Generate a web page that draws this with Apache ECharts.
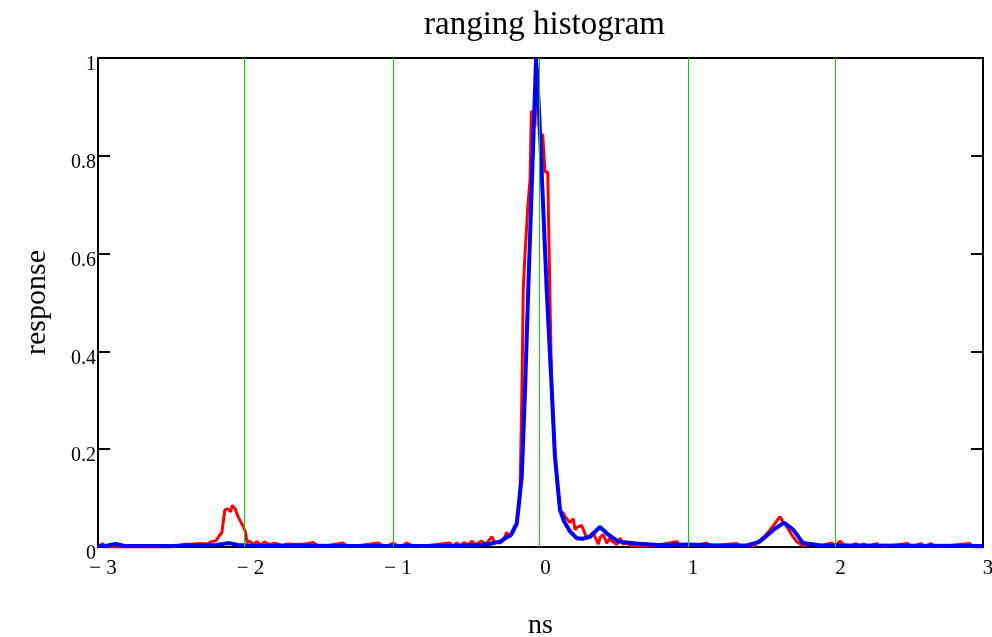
<!DOCTYPE html>
<html>
<head>
<meta charset="utf-8">
<script src="https://cdn.jsdelivr.net/npm/echarts@6/dist/echarts.min.js"></script>
<style>
 html, body { margin: 0; padding: 0; background: #fff; }
 #chartMain { width: 992px; height: 637px; }
</style>
</head>
<body>
<div id="chartMain"></div>
<script>
 // x axis ticks (ns) and y axis ticks (response)
 var nsTicks = [-3, -2, -1, 0, 1, 2, 3];
 var respTicks = [0, 0.2, 0.4, 0.6, 0.8, 1];
 // green reference lines (ns)
 var markerNs = [-2.01, -1.005, -0.005, 1.0, 2.0];

 // measured histogram (red)
 var redNs = [-3.0, -2.97, -2.95, -2.5, -2.42, -2.35, -2.3, -2.26, -2.23, -2.2, -2.18, -2.16, -2.14, -2.12, -2.1, -2.09, -2.083, -2.07, -2.05, -2.03, -2.015, -2.0, -1.99, -1.97, -1.95, -1.92, -1.9, -1.87, -1.84, -1.8, -1.75, -1.72, -1.66, -1.6, -1.54, -1.5, -1.34, -1.3, -1.1, -1.05, -1.0, -0.95, -0.907, -0.85, -0.614, -0.59, -0.57, -0.54, -0.52, -0.49, -0.466, -0.44, -0.4, -0.37, -0.33, -0.31, -0.297, -0.27, -0.25, -0.229, -0.21, -0.184, -0.161, -0.139, -0.127, -0.117, -0.105, -0.085, -0.071, -0.062, -0.045, -0.037, -0.028, -0.015, -0.008, 0.015, 0.03, 0.049, 0.064, 0.076, 0.098, 0.11, 0.132, 0.155, 0.166, 0.178, 0.2, 0.222, 0.234, 0.245, 0.279, 0.29, 0.313, 0.336, 0.358, 0.37, 0.392, 0.405, 0.426, 0.449, 0.471, 0.483, 0.517, 0.539, 0.56, 0.584, 0.62, 0.7, 0.8, 0.923, 0.95, 1.05, 1.127, 1.15, 1.33, 1.36, 1.45, 1.488, 1.52, 1.556, 1.59, 1.605, 1.624, 1.642, 1.669, 1.703, 1.737, 1.78, 1.85, 1.86, 1.9, 1.94, 1.974, 2.0, 2.03, 2.06, 2.1, 2.14, 2.16, 2.19, 2.22, 2.28, 2.3, 2.49, 2.51, 2.58, 2.6, 2.65, 2.67, 2.91, 2.93, 3.0];
 var redResp = [0, 0.007, 0, 0, 0.005, 0.006, 0.007, 0.006, 0.011, 0.013, 0.022, 0.03, 0.076, 0.078, 0.072, 0.085, 0.089, 0.078, 0.062, 0.05, 0.042, 0.03, 0.01, 0.012, 0.005, 0.011, 0.004, 0.01, 0.005, 0.008, 0.003, 0.006, 0.005, 0.006, 0.009, 0, 0.008, 0, 0.008, 0, 0.008, 0, 0.008, 0, 0.008, 0.002, 0.008, 0.003, 0.009, 0.004, 0.012, 0.005, 0.012, 0.006, 0.021, 0.01, 0.012, 0.008, 0.015, 0.03, 0.02, 0.031, 0.048, 0.105, 0.3, 0.526, 0.6, 0.7, 0.75, 0.89, 0.89, 0.86, 0.98, 0.97, 0.843, 0.843, 0.767, 0.767, 0.51, 0.321, 0.185, 0.144, 0.076, 0.069, 0.062, 0.064, 0.05, 0.058, 0.035, 0.04, 0.044, 0.036, 0.018, 0.024, 0.03, 0.02, 0.006, 0.02, 0.025, 0.008, 0.018, 0.012, 0.005, 0.018, 0.006, 0.008, 0.003, 0.002, 0.004, 0.011, 0.002, 0.003, 0.008, 0.002, 0.007, 0.002, 0.003, 0.014, 0.022, 0.035, 0.048, 0.055, 0.062, 0.052, 0.042, 0.025, 0.011, 0.003, 0.006, 0.007, 0.002, 0.006, 0.008, 0.003, 0.012, 0.004, 0.002, 0.007, 0.002, 0.006, 0.001, 0.007, 0, 0.007, 0, 0.007, 0, 0.007, 0, 0.007, 0, 0];

 // fitted response (blue)
 var blueNs = [-3.0, -2.95, -2.88, -2.82, -2.5, -2.4, -2.2, -2.11, -2.05, -1.9, -1.6, -1.4, -0.6, -0.41, -0.35, -0.275, -0.2, -0.161, -0.127, -0.105, -0.083, -0.03, -0.008, 0.042, 0.075, 0.098, 0.132, 0.16, 0.2, 0.245, 0.29, 0.336, 0.403, 0.46, 0.528, 0.652, 0.8, 1.0, 1.2, 1.4, 1.488, 1.578, 1.651, 1.714, 1.78, 1.9, 2.1, 3.0];
 var blueResp = [0.002, 0.002, 0.006, 0.002, 0.002, 0.003, 0.004, 0.008, 0.004, 0.002, 0.003, 0.002, 0.002, 0.004, 0.006, 0.011, 0.025, 0.048, 0.144, 0.321, 0.526, 1.0, 0.88, 0.526, 0.33, 0.185, 0.076, 0.052, 0.032, 0.018, 0.017, 0.021, 0.041, 0.025, 0.011, 0.007, 0.004, 0.005, 0.003, 0.003, 0.011, 0.035, 0.05, 0.035, 0.008, 0.003, 0.003, 0.002];

 var serif = '"Liberation Serif", "DejaVu Serif", serif';

 function pairs(xs, ys) {
 	var out = [];
 	for (var i = 0; i < xs.length; i++) {
 		out.push([xs[i], ys[i]]);
 	}
 	return out;
 }

 var myChart = echarts.init(document.getElementById('chartMain'), null, { renderer: 'canvas' });

 var option = {
 	animation: false,
 	backgroundColor: '#fff',
 	graphic: [{
 		type: 'text',
 		left: 424, top: 9,
 		style: {
 			text: 'ranging histogram',
 			font: '33px "Liberation Serif", serif',
 			fill: '#000'
 		}
 	}],
 	grid: {
 		left: 98, right: 9, top: 58, bottom: 90,
 		outerBoundsMode: 'none',
 		containLabel: false,
 		show: true, borderColor: '#000', borderWidth: 2, backgroundColor: 'transparent'
 	},
 	xAxis: {
 		type: 'value',
 		min: nsTicks[0], max: nsTicks[nsTicks.length - 1], interval: 1,
 		name: 'ns', nameLocation: 'middle', nameGap: 65,
 		nameTextStyle: { fontFamily: serif, fontSize: 28, color: '#000' },
 		axisLine: { show: true, onZero: false, lineStyle: { color: '#000', width: 2 } },
 		axisTick: { show: false },
 		splitLine: { show: false },
 		axisLabel: {
 			fontFamily: serif, fontSize: 21, color: '#000', margin: 11,
 			padding: [0, 0, 0, 10],
 			formatter: function(v) { return v < 0 ? '\u2212 ' + Math.abs(v) : String(v); }
 		}
 	},
 	yAxis: [{
 		type: 'value',
 		min: respTicks[0], max: respTicks[respTicks.length - 1], interval: 0.2,
 		name: 'response', nameLocation: 'middle', nameGap: 46, nameRotate: 90,
 		nameTextStyle: { fontFamily: serif, fontSize: 30, color: '#000' },
 		axisLine: { show: true, onZero: false, lineStyle: { color: '#000', width: 2 } },
 		axisTick: { show: true, inside: true, length: 12, lineStyle: { color: '#000', width: 2 } },
 		splitLine: { show: false },
 		axisLabel: { fontFamily: serif, fontSize: 20, color: '#000', margin: 2, verticalAlign: 'top', padding: [-3, 0, 0, 0] }
 	}, {
 		type: 'value', position: 'right',
 		min: respTicks[0], max: respTicks[respTicks.length - 1], interval: 0.2,
 		axisLine: { show: true, onZero: false, lineStyle: { color: '#000', width: 2 } },
 		axisTick: { show: true, inside: true, length: 12, lineStyle: { color: '#000', width: 2 } },
 		axisLabel: { show: false },
 		splitLine: { show: false }
 	}],
 	series: [{
 		name: 'measured',
 		type: 'line',
 		data: pairs(redNs, redResp),
 		showSymbol: false,
 		lineStyle: { color: '#ff0000', width: 3 },
 		z: 3,
 		markLine: {
 			silent: true,
 			symbol: ['none', 'none'],
 			label: { show: false },
 			lineStyle: { color: '#00e000', width: 1, type: 'solid' },
 			data: markerNs.map(function(v) { return { xAxis: v }; })
 		}
 	}, {
 		name: 'fit',
 		type: 'line',
 		data: pairs(blueNs, blueResp),
 		showSymbol: false,
 		lineStyle: { color: '#0000ff', width: 4 },
 		z: 4
 	}]
 };

 myChart.setOption(option);
</script>
</body>
</html>
